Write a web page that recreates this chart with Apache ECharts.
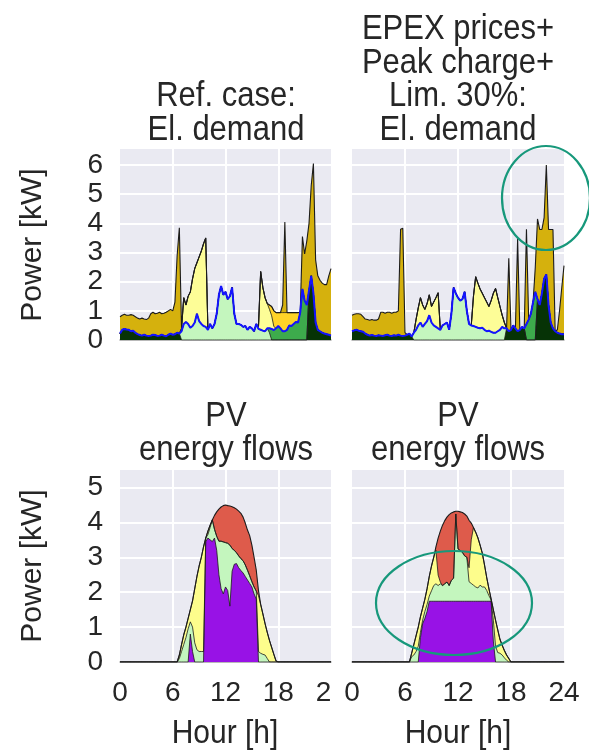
<!DOCTYPE html>
<html><head><meta charset="utf-8">
<script src="https://cdn.jsdelivr.net/npm/echarts@6/dist/echarts.min.js"></script>
<style>html,body{margin:0;padding:0;background:#fff}#c{width:589px;height:751px}</style>
</head><body><div id="c"></div>
<script>
const HOURS = [0,0.25,0.5,0.75,1,1.25,1.5,1.75,2,2.25,2.5,2.75,3,3.25,3.5,3.75,4,4.25,4.5,4.75,5,5.25,5.5,5.75,6,6.25,6.5,6.75,7,7.25,7.5,7.75,8,8.25,8.5,8.75,9,9.25,9.5,9.75,10,10.25,10.5,10.75,11,11.25,11.5,11.75,12,12.25,12.5,12.75,13,13.25,13.5,13.75,14,14.25,14.5,14.75,15,15.25,15.5,15.75,16,16.25,16.5,16.75,17,17.25,17.5,17.75,18,18.25,18.5,18.75,19,19.25,19.5,19.75,20,20.25,20.5,20.75,21,21.25,21.5,21.75,22,22.25,22.5,22.75,23,23.25,23.5,23.75,24];
const X_TICKS = [0, 6, 12, 18, 24];

// ---- Top-left: Ref. case, electricity demand (kW) ----
const TL_GRID_HH = [0.22,0.35,0.38,0.36, 0.35,0.30,0.32,0.25, 0.20,0.17,0.15,0.18, 0.15,0.14,0.15,0.18, 0.17,0.14,0.15,0.18, 0.15,0.13,0.18,0.22, 0.18,0.20,0.25,0.22,
 0,0,0,0, 0,0,0,0, 0,0,0,0, 0,0,0,0, 0,0,0,0, 0,0,0,0, 0,0,0,0, 0,0,0,0, 0,0,0,0, 0,0,0,0, 0,0,0,0, 0,0,0,0, 0,0,0,0, 0,0,0,0,
 0,0,1.70,2.20, 1.60,0.60,0.35,0.30, 0.25,0.22,0.20,0.18, 0.15];
const TL_PV_HH = [0,0,0,0, 0,0,0,0, 0,0,0,0, 0,0,0,0, 0,0,0,0, 0,0,0,0, 0,0,0,0,
 0.30,0.55,0.62,0.55, 0.42,0.48,0.60,0.90, 0.65,0.55,0.48,0.45, 0.35,0.55,0.40,0.55, 0.90,1.55,1.85,1.55, 1.65,1.40,1.50,1.80, 0.90,0.55,0.55,0.52, 0.45,0.48,0.35,0.45, 0.40,0.30,0.55,0.38, 0.35,0.32,0.30,0.40, 0.25,0,0,0,
 0,0,0,0, 0,0,0,0, 0,0,0,0, 0,0,0,0, 0,0,0,0, 0,0,0,0, 0];
const TL_BAT_HH = [0,0,0,0, 0,0,0,0, 0,0,0,0, 0,0,0,0, 0,0,0,0, 0,0,0,0, 0,0,0,0,
 0,0,0,0, 0,0,0,0, 0,0,0,0, 0,0,0,0, 0,0,0,0, 0,0,0,0, 0,0,0,0, 0,0,0,0, 0,0,0,0, 0,0,0,0,
 0.15,0.38,0.34,0.40, 0.48,0.40,0.30,0.30, 0.35,0.50,0.48,0.55, 0.62,0.60,0.95,1.75, 1.35,1.20,0,0, 0,0,0,0, 0,0,0,0, 0];
const TL_PV_OT = [0,0,0,0, 0,0,0,0, 0,0,0,0, 0,0,0,0, 0,0,0,0, 0,0,0,0, 0,0,0,0,
 0.10,0.90,0.58,0.95, 1.23,1.62,1.85,1.75, 2.20,2.50,2.82,3.05, 0,0,0,0, 0,0,0,0, 0,0,0,0, 0,0,0,0, 0,0,0,0, 0,0,0,0.07, 2.00,1.48,1.15,0.85,
 0.65,0.45,0.12,0, 0,0,0,0, 0,0,0,0, 0,0,0,0, 0,0,0,0, 0,0,0,0, 0,0,0,0, 0];
const TL_BAT_OT = [0,0,0,0, 0,0,0,0, 0,0,0,0, 0,0,0,0, 0,0,0,0, 0,0,0,0, 0,0,0,0,
 0,0,0,0, 0,0,0,0, 0,0,0,0, 0,0,0,0, 0,0,0,0, 0,0,0,0, 0,0,0,0, 0,0,0,0, 0,0,0,0, 0,0,0,0,
 0.15,0.32,0.54,0.54, 0.46,0.54,0.64,0.64, 0.59,0.44,0.46,0.39, 0.32,0.34,0,0, 0,0,0,0, 0,0,0,0, 0,0,0,0, 0];
const TL_GRID_OT = [0.58,0.50,0.50,0.49, 0.50,0.57,0.53,0.55, 0.55,0.55,0.60,0.54, 0.55,0.61,0.75,0.77, 0.73,0.78,0.80,0.72, 0.77,0.82,0.82,0.83, 0.82,1.10,2.65,3.63,
 0,0,0,0, 0,0,0,0, 0,0,0,0, 0,0,0,0, 0,0,0,0, 0,0,0,0, 0,0,0,0, 0,0,0,0, 0,0,0,0, 0,0,0,0, 0,0,0,0,
 0,0,0.26,3.11, 0,0,0,0, 0,0,0,1.80, 1.60,2.20,2.30,3.10, 4.45,2.15,1.85,1.75, 1.70,1.68,1.70,2.02, 2.30];

// ---- Top-right: EPEX prices + peak charge + limit 30 %, electricity demand (kW) ----
const TR_GRID_HH = [0.30,0.33,0.35,0.32, 0.30,0.28,0.22,0.18, 0.15,0.17,0.15,0.14, 0.16,0.15,0.14,0.16, 0.18,0.15,0.14,0.16, 0.15,0.18,0.15,0.14, 0.15,0.18,0.22,0.12,
 0,0,0,0, 0,0,0,0, 0,0,0,0, 0,0,0,0, 0,0,0,0, 0,0,0,0, 0,0,0,0, 0,0,0,0, 0,0,0,0, 0,0,0,0,
 0,0,0.40,0.30, 0.35,0.50,0.40,0.30, 0.35,0.45,0.40,0, 0,0,0,0, 1.40,1.20,1.60,2.10, 2.25,1.20,0.60,0.40, 0.30,0.25,0.22,0.20, 0.20];
const TR_PV_HH = [0,0,0,0, 0,0,0,0, 0,0,0,0, 0,0,0,0, 0,0,0,0, 0,0,0,0, 0,0,0,0,
 0.25,0.35,0.50,0.60, 0.45,0.55,0.65,0.85, 0.60,0.50,0.45,0.40, 0.35,0.50,0.55,0.60, 0.35,0.90,1.80,1.60, 1.45,1.35,1.40,1.65, 1.00,0.55,0.50,0.48, 0.45,0.42,0.40,0.42, 0.35,0.30,0.32,0.28, 0.25,0.25,0.30,0.35,
 0.45,0.40,0,0, 0,0,0,0, 0,0,0,0, 0,0,0,0, 0,0,0,0, 0,0,0,0, 0,0,0,0, 0];
const TR_BAT_HH = [0,0,0,0, 0,0,0,0, 0,0,0,0, 0,0,0,0, 0,0,0,0, 0,0,0,0, 0,0,0,0,
 0,0,0,0, 0,0,0,0, 0,0,0,0, 0,0,0,0, 0,0,0,0, 0,0,0,0, 0,0,0,0, 0,0,0,0, 0,0,0,0, 0,0,0,0,
 0,0,0,0, 0,0,0,0, 0,0,0,0.55, 0.70,0.90,1.30,1.65, 0,0,0,0, 0,0,0,0, 0,0,0,0, 0];
const TR_PV_OT = [0,0,0,0, 0,0,0,0, 0,0,0,0, 0,0,0,0, 0,0,0,0, 0,0,0,0, 0,0,0,0,
 0,0.35,0.60,0.85, 0.75,0.50,0.60,0.70, 0.55,0.80,1.00,1.22, 0,0,0,0, 0,0,0,0, 0,0,0,0, 0,0,0,1.02, 1.72,1.53,1.35,1.18, 1.10,1.00,0.83,1.07, 1.35,1.52,1.15,0.80,
 0.40,0.20,0,0, 0,0,0,0, 0,0,0,0, 0,0,0,0, 0,0,0,0, 0,0,0,0, 0,0,0,0, 0];
const TR_BAT_OT = [0,0,0,0, 0,0,0,0, 0,0,0,0, 0,0,0,0, 0,0,0,0, 0,0,0,0, 0,0,0,0,
 0,0,0,0, 0,0,0,0, 0,0,0,0, 0,0,0,0, 0,0,0,0, 0,0,0,0, 0,0,0,0, 0,0,0,0, 0,0,0,0, 0,0,0,0,
 0,0,0,0, 0,0,0,0, 0,0,0,0, 0,0,0,0, 0,0,0,0, 0,0,0,0, 0,0,0,0, 0];
const TR_GRID_OT = [0.55,0.55,0.55,0.58, 0.58,0.52,0.50,0.52, 0.53,0.53,0.53,0.54, 0.56,0.80,0.81,0.76, 0.77,0.80,0.78,0.79, 0.80,0.82,3.65,3.69, 0.10,0,0,0,
 0,0,0,0, 0,0,0,0, 0,0,0,0, 0,0,0,0, 0,0,0,0, 0,0,0,0, 0,0,0,0, 0,0,0,0, 0,0,0,0, 0,0,0,0,
 0,0,0,2.50, 0,0,0,3.18, 0,0,0,3.25, 0,0,0,0.85, 2.75,2.59,2.19,2.10, 3.75,2.59,3.19,3.39, 0,0.10,0.80,1.60, 2.35];

// ---- Bottom-left: Ref. case, PV energy flows (kW) ----
const BL_PURPLE = [0,0,0,0, 0,0,0,0, 0,0,0,0, 0,0,0,0, 0,0,0,0, 0,0,0,0, 0,0,0,0,
 0,0,0,0, 0.80,0.30,0,0, 0,0,0,3.45, 3.55,3.50,3.45,3.55, 3.20,2.50,2.10,1.95, 2.15,2.05,1.60,2.60, 2.80,2.82,2.70,2.62, 2.55,2.45,2.35,2.25, 2.15,1.95,1.80,0, 0,0,0,0,
 0,0,0,0, 0,0,0,0, 0,0,0,0, 0,0,0,0, 0,0,0,0, 0,0,0,0, 0,0,0,0, 0];
const BL_GREEN = [0,0,0,0, 0,0,0,0, 0,0,0,0, 0,0,0,0, 0,0,0,0, 0,0,0,0, 0,0,0,0.10,
 0.30,0.50,0.70,0.95, 0.35,0.70,0.55,0.35, 0.30,0.30,0.30,0.10, 0.10,0.35,0.62,0.25, 0.40,0.96,1.36,1.49, 1.27,1.35,1.75,0.65, 0.40,0.31,0.34,0.34, 0.35,0.33,0.28,0.22, 0.15,0.20,0.23,0.30, 0.25,0.22,0.20,0.10,
 0,0,0,0, 0,0,0,0, 0,0,0,0, 0,0,0,0, 0,0,0,0, 0,0,0,0, 0,0,0,0, 0];
const BL_YELLOW = [0,0,0,0, 0,0,0,0, 0,0,0,0, 0,0,0,0, 0,0,0,0, 0,0,0,0, 0,0,0,0.10,
 0.20,0.28,0.30,0.30, 0.35,0.75,1.55,2.10, 2.45,2.70,3.00,0, 0.10,0.07,0,0, 0,0,0,0, 0,0,0,0, 0,0,0,0, 0,0,0,0, 0,0,0,1.60, 1.40,1.16,0.90,0.75,
 0.62,0.42,0.22,0.03, 0,0,0,0, 0,0,0,0, 0,0,0,0, 0,0,0,0, 0,0,0,0, 0,0,0,0, 0];
const BL_RED = [0,0,0,0, 0,0,0,0, 0,0,0,0, 0,0,0,0, 0,0,0,0, 0,0,0,0, 0,0,0,0,
 0,0,0,0, 0,0,0,0, 0,0,0,0, 0,0,0,0.40, 0.70,0.92,0.98,1.04, 1.08,1.08,1.12,1.20, 1.22,1.25,1.28,1.30, 1.25,1.20,1.15,1.15, 1.05,0.85,0.60,0.15, 0,0,0,0,
 0,0,0,0, 0,0,0,0, 0,0,0,0, 0,0,0,0, 0,0,0,0, 0,0,0,0, 0,0,0,0, 0];

// ---- Bottom-right: EPEX + peak charge + limit 30 %, PV energy flows (kW) ----
const BR_PURPLE = [0,0,0,0, 0,0,0,0, 0,0,0,0, 0,0,0,0, 0,0,0,0, 0,0,0,0, 0,0,0,0,
 0,0,0,0.70, 1.10,1.25,1.45,1.74, 1.74,1.74,1.74,1.74, 1.74,1.74,1.74,1.74, 1.74,1.74,1.74,1.74, 1.74,1.74,1.74,1.74, 1.74,1.74,1.74,1.74, 1.74,1.74,1.74,1.74, 1.74,1.74,1.74,1.74, 0.60,0,0,0,
 0,0,0,0, 0,0,0,0, 0,0,0,0, 0,0,0,0, 0,0,0,0, 0,0,0,0, 0,0,0,0, 0];
const BR_GREEN = [0,0,0,0, 0,0,0,0, 0,0,0,0, 0,0,0,0, 0,0,0,0, 0,0,0,0, 0,0,0,0.15,
 0.20,0.30,0.45,0.15, 0.10,0.20,0.20,0.15, 0.30,0.45,0.50,0.45, 0.50,0.45,0.50,0.55, 0.45,0.60,0.66,2.50, 1.50,1.45,1.40,1.30, 1.26,0.56,0.51,0.46, 0.41,0.38,0.46,0.41, 0.41,0.31,0.16,0.04, 0.60,0.45,0.27,0.25,
 0.20,0.12,0.05,0, 0,0,0,0, 0,0,0,0, 0,0,0,0, 0,0,0,0, 0,0,0,0, 0,0,0,0, 0];
const BR_YELLOW = [0,0,0,0, 0,0,0,0, 0,0,0,0, 0,0,0,0, 0,0,0,0, 0,0,0,0, 0,0,0,0.10,
 0.30,0.45,0.55,0.45, 0.35,0.35,0.45,0.56, 0.71,0.81,0.96,0.30, 0.05,0,0,0, 0,0,0,0, 0,0,0,0, 0,0.40,1.25,1.65, 1.57,1.44,1.15,0.97, 0.63,0.37,0.20,0.02, 0.30,0.75,0.65,0.40,
 0.28,0.21,0.15,0.10, 0,0,0,0, 0,0,0,0, 0,0,0,0, 0,0,0,0, 0,0,0,0, 0,0,0,0, 0];
const BR_RED = [0,0,0,0, 0,0,0,0, 0,0,0,0, 0,0,0,0, 0,0,0,0, 0,0,0,0, 0,0,0,0,
 0,0,0,0, 0,0,0,0, 0,0,0.10,1.06, 1.46,1.73,1.81,1.86, 2.03,1.93,1.90,0.08, 1.08,1.11,1.14,1.20, 1.18,1.36,0.48,0, 0,0,0,0, 0,0,0,0, 0,0,0,0,
 0,0,0,0, 0,0,0,0, 0,0,0,0, 0,0,0,0, 0,0,0,0, 0,0,0,0, 0,0,0,0, 0];

const TOP_TITLES = [["Ref. case:", "El. demand"], ["EPEX prices+", "Peak charge+", "Lim. 30%:", "El. demand"]];
const BOTTOM_TITLES = [["PV", "energy flows"], ["PV", "energy flows"]];
const Y_LABEL = "Power [kW]";
const X_LABEL = "Hour [h]";

// ---------- build ----------
const FONT = '"Liberation Sans", Arial, Helvetica, sans-serif';
const TXT = '#262626';
const C = {
  gridHH: '#063306', pvHH: '#c4f6be', batHH: '#3dab4c',
  pvOT: '#fdfd97', batOT: '#ffd428', gridOT: '#d5b10d',
  purple: '#9812e6', green: '#c4f6be', yellow: '#fdfd8c', red: '#de5b4b',
  blue: '#1414ff'
};
const grids = [
  {left: 120, top: 149, width: 211, height: 191},
  {left: 352, top: 149, width: 212, height: 191},
  {left: 120, top: 470, width: 211, height: 192},
  {left: 352, top: 470, width: 212, height: 192}
].map(g => Object.assign(g, {show: true, backgroundColor: '#eaeaf2', borderWidth: 0, containLabel: false}));

const xAxes = grids.map((g, i) => ({
  type: 'value', gridIndex: i, min: X_TICKS[0], max: X_TICKS[X_TICKS.length - 1], interval: X_TICKS[1] - X_TICKS[0],
  axisLine: {show: true, onZero: false, lineStyle: {color: '#a3a3a3', width: 1.5}},
  axisTick: {show: false},
  splitLine: {show: true, showMinLine: false, showMaxLine: false, lineStyle: {color: '#ffffff', width: 2}},
  axisLabel: {
    show: i >= 2, fontSize: 28, color: TXT, fontFamily: FONT, margin: 17,
    formatter: (i === 2) ? (v => v === 24 ? '{c|2}' : String(v)) : (v => String(v)),
    rich: {c: {fontSize: 28, color: TXT, fontFamily: FONT, padding: [0, 15, 0, 0]}}
  },
  z: 0
}));
const yAxes = grids.map((g, i) => ({
  type: 'value', gridIndex: i, min: 0, max: i < 2 ? 6.55 : 5.5, interval: 1,
  axisLine: {show: false}, axisTick: {show: false},
  splitLine: {show: true, showMinLine: false, showMaxLine: false, lineStyle: {color: '#ffffff', width: 2}},
  axisLabel: {show: i % 2 === 0, showMaxLabel: false, fontSize: 28, color: TXT, fontFamily: FONT, margin: 17}
}));

// Stacked layers: cumulative tops are computed from the component arrays, then each
// cumulative area is drawn from the top layer down so the lower layers paint over it.
function stackedPanel(gi, layers) {
  const cum = [];
  let run = HOURS.map(() => 0);
  layers.forEach(l => { run = run.map((v, k) => +(v + l.data[k]).toFixed(3)); cum.push(run); });
  const out = [];
  for (let j = layers.length - 1; j >= 0; j--) {
    out.push({
      type: 'line', name: layers[j].name, xAxisIndex: gi, yAxisIndex: gi,
      data: HOURS.map((h, k) => [h, cum[j][k]]),
      symbol: 'none', showSymbol: false, smooth: false, animation: false,
      lineStyle: {color: '#1c1c1c', width: j === layers.length - 1 ? 1.1 : 0.8},
      areaStyle: {color: layers[j].color, opacity: 1, origin: 'start'}, z: 2
    });
  }
  return out;
}
function hhLine(gi, a, b, c) {
  return {
    type: 'line', name: 'household', xAxisIndex: gi, yAxisIndex: gi,
    data: HOURS.map((h, k) => [h, +(a[k] + b[k] + c[k]).toFixed(3)]),
    symbol: 'none', showSymbol: false, animation: false,
    lineStyle: {color: C.blue, width: 2}, z: 4
  };
}
function topLayers(a, b, c, d, e, f) {
  return [
    {name: 'grid→HH', data: a, color: C.gridHH}, {name: 'PV→HH', data: b, color: C.pvHH}, {name: 'bat→HH', data: c, color: C.batHH},
    {name: 'PV→other', data: d, color: C.pvOT}, {name: 'bat→other', data: e, color: C.batOT}, {name: 'grid→other', data: f, color: C.gridOT}
  ];
}
function pvLayers(p, g, y, r) {
  return [
    {name: 'PV a', data: p, color: C.purple}, {name: 'PV b', data: g, color: C.green},
    {name: 'PV c', data: y, color: C.yellow}, {name: 'PV d', data: r, color: C.red}
  ];
}
const series = [].concat(
  stackedPanel(0, topLayers(TL_GRID_HH, TL_PV_HH, TL_BAT_HH, TL_PV_OT, TL_BAT_OT, TL_GRID_OT)),
  [hhLine(0, TL_GRID_HH, TL_PV_HH, TL_BAT_HH)],
  stackedPanel(1, topLayers(TR_GRID_HH, TR_PV_HH, TR_BAT_HH, TR_PV_OT, TR_BAT_OT, TR_GRID_OT)),
  [hhLine(1, TR_GRID_HH, TR_PV_HH, TR_BAT_HH)],
  stackedPanel(2, pvLayers(BL_PURPLE, BL_GREEN, BL_YELLOW, BL_RED)),
  stackedPanel(3, pvLayers(BR_PURPLE, BR_GREEN, BR_YELLOW, BR_RED))
);

function txt(text, x, y, size, rot, sy) {
  return {type: 'text', x, y, rotation: rot || 0, scaleY: sy || 1, z: 10, silent: true,
    style: {text, fill: TXT, font: size + 'px ' + FONT, textAlign: 'center', textVerticalAlign: 'middle', verticalAlign: 'middle'}};
}
const graphics = [];
const LINE = 33.4;
TOP_TITLES[0].forEach((t, k, a) => graphics.push(txt(t, 226, 129.7 - (a.length - 1 - k) * LINE, 31, 0, 1.15)));
TOP_TITLES[1].forEach((t, k, a) => graphics.push(txt(t, 458, 129.7 - (a.length - 1 - k) * LINE, 31, 0, 1.15)));
BOTTOM_TITLES[0].forEach((t, k, a) => graphics.push(txt(t, 226, 450 - (a.length - 1 - k) * LINE, 31, 0, 1.15)));
BOTTOM_TITLES[1].forEach((t, k, a) => graphics.push(txt(t, 458, 450 - (a.length - 1 - k) * LINE, 31, 0, 1.15)));
graphics.push(txt(Y_LABEL, 33, 245, 30, Math.PI / 2));
graphics.push(txt(Y_LABEL, 33, 566, 30, Math.PI / 2));
graphics.push(txt(X_LABEL, 225, 734, 30, 0, 1.12));
graphics.push(txt(X_LABEL, 458, 734, 30, 0, 1.12));
graphics.push({type: 'ellipse', z: 20, silent: true, shape: {cx: 546, cy: 198, rx: 44, ry: 52}, style: {fill: 'none', stroke: '#17987b', lineWidth: 2.2}});
graphics.push({type: 'ellipse', z: 20, silent: true, shape: {cx: 454, cy: 603, rx: 78, ry: 52}, style: {fill: 'none', stroke: '#17987b', lineWidth: 2.2}});

const chart = echarts.init(document.getElementById('c'), null, {renderer: 'canvas'});
chart.setOption({
  animation: false, backgroundColor: '#ffffff',
  grid: grids, xAxis: xAxes, yAxis: yAxes, series, graphic: graphics
});
</script></body></html>
